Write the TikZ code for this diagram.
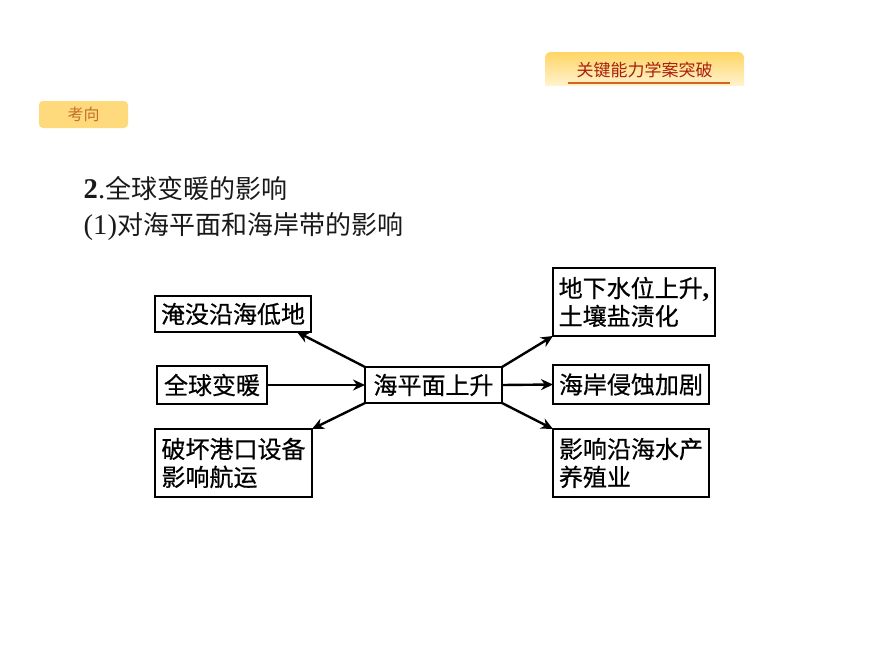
\documentclass[tikz,border=0pt]{standalone}
\usepackage{fontspec}
\setmainfont{Noto Sans CJK SC}
\newfontfamily\latinserif[Scale=1.1]{Liberation Serif}
\newfontfamily\boxfont[FakeBold=0.5]{Noto Sans CJK SC}
\usetikzlibrary{arrows.meta}
\definecolor{bannerTop}{HTML}{FFD564}
\definecolor{bannerBot}{HTML}{FFF3CF}
\definecolor{bannerText}{HTML}{A8200D}
\definecolor{bannerLine}{HTML}{D0651E}
\definecolor{tagFill}{HTML}{FFDA7C}
\definecolor{tagText}{HTML}{C2702C}
\tikzset{
  flowbox/.style={draw=black,line width=2.4pt,outer sep=0pt,fill=white,inner sep=0pt,align=left,
    font=\boxfont\fontsize{24}{28}\selectfont,anchor=north west},
  flowarrow/.style={line width=2.4pt,-{Stealth[length=12pt,width=11pt]}},
  heading/.style={inner sep=0pt,anchor=west,font=\fontsize{26}{30}\selectfont,text=black!90}
}
\begin{document}
\begin{tikzpicture}[x=1pt,y=-1pt]
\useasboundingbox (0,0) rectangle (870,653);
\fill[white] (0,0) rectangle (870,653);
% banner
\shade[top color=bannerTop,bottom color=bannerBot] (545,86) [rounded corners=6pt] -- (545,52) -- (744,52) [sharp corners] -- (744,86) -- cycle;
\node[inner sep=0pt,text=bannerText,font=\fontsize{17}{20}\selectfont] (banner) at (644.5,70) {关键能力学案突破};
\coordinate (ulA) at (568,83);
\coordinate (ulB) at (730,83);
\draw[bannerLine,line width=1.3pt] (ulA) -- (ulB);
% tag
\node[fill=tagFill,rounded corners=4pt,minimum width=89pt,minimum height=27pt,inner sep=0pt,text=tagText,font=\fontsize{16}{18}\selectfont] (tag) at (83.5,114.5) {考向};
% headings
\node[heading] (h1) at (83.5,189) {{\latinserif\bfseries 2}{\latinserif .}全球变暖的影响};
\node[heading] (h2) at (83.5,227) {{\latinserif (1)}对海平面和海岸带的影响};
% boxes
\node[flowbox,minimum width=156pt,minimum height=36pt] (yan) at (155,296) {淹没沿海低地};
\node[flowbox,minimum width=110pt,minimum height=38pt] (quan) at (157,366) {全球变暖};
\node[flowbox,minimum width=157pt,minimum height=68pt] (po) at (155,429) {破坏港口设备\\影响航运\hphantom{港口}};
\node[flowbox,minimum width=137pt,minimum height=36pt] (hai) at (365,367) {海平面上升};
\node[flowbox,minimum width=162pt,minimum height=68pt] (di) at (553,268) {地下水位上升{\latinserif\bfseries ,}\\土壤盐渍化\hphantom{水}};
\node[flowbox,minimum width=156pt,minimum height=39pt] (an) at (553,365) {海岸侵蚀加剧};
\node[flowbox,minimum width=156pt,minimum height=68pt] (ying) at (553,429) {影响沿海水产\\养殖业\hphantom{沿海水}};
% arrows
\draw[flowarrow] (hai.north west) -- ([xshift=-14pt]yan.south east);
\draw[flowarrow] (quan.east) -- (hai.west);
\draw[flowarrow] (hai.south west) -- (po.north east);
\draw[flowarrow] (hai.north east) -- (di.south west);
\draw[flowarrow] (hai.east) -- (an.west);
\draw[flowarrow] (hai.south east) -- (ying.north west);
\end{tikzpicture}
\end{document}
